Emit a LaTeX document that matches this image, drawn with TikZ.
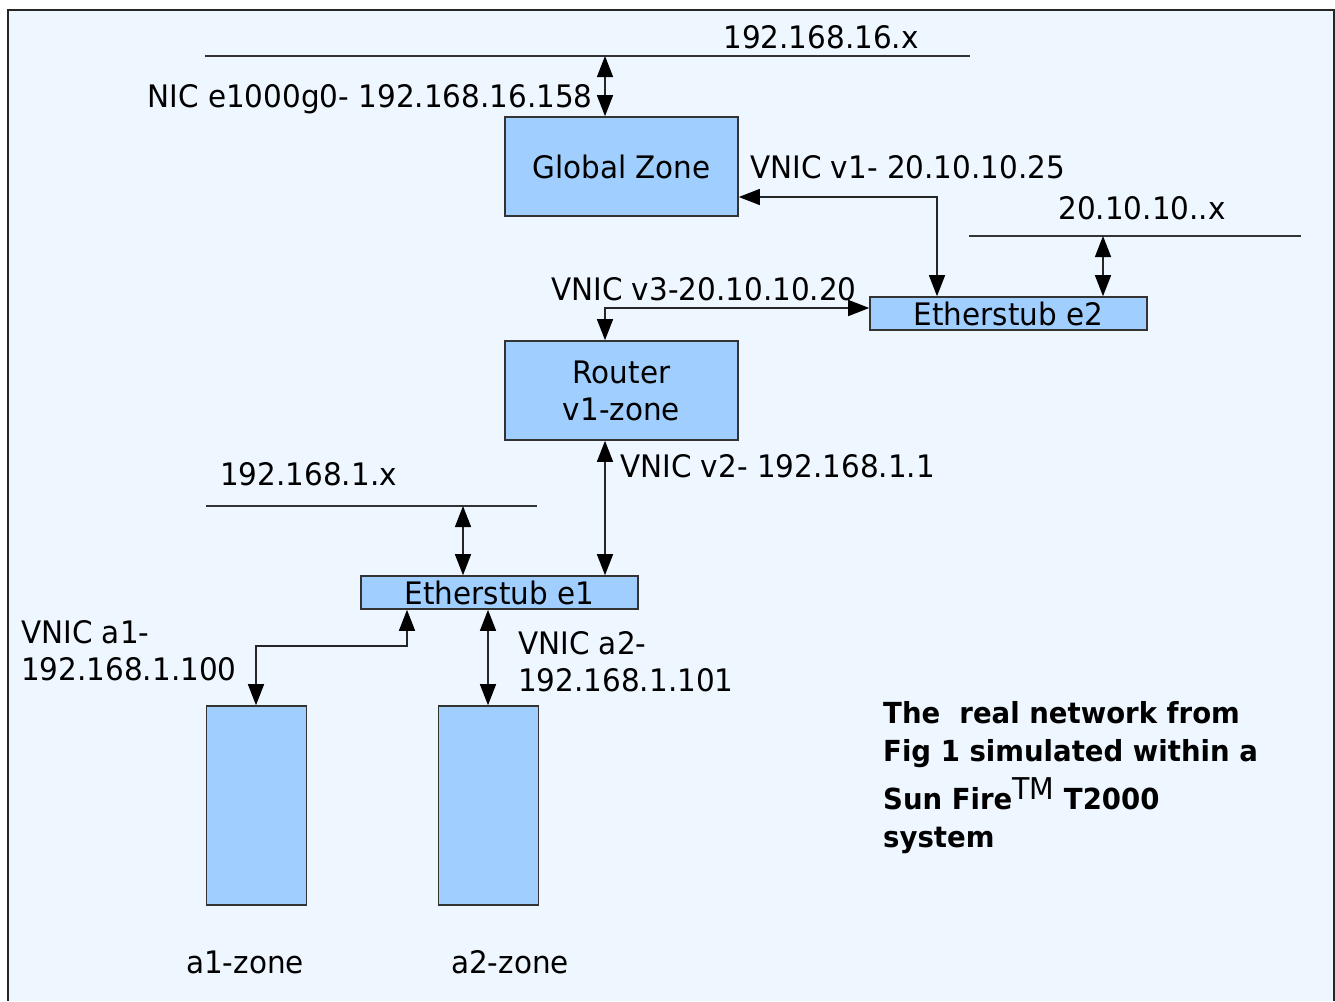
\documentclass[tikz,border=0pt]{standalone}
\usepackage{fontspec}
\setmainfont{DejaVu Sans}[FakeStretch=0.95]
\usetikzlibrary{arrows.meta}
\definecolor{bgblue}{HTML}{EEF6FF}
\definecolor{boxblue}{HTML}{A0CFFF}
\definecolor{edge}{HTML}{333333}

\begin{document}
\begin{tikzpicture}[x=1pt,y=-1pt,
  box/.style={draw=edge, fill=boxblue, line width=1.6pt, inner sep=0pt,
    font=\fontsize{31}{37}\selectfont, align=center},
  lbl/.style={inner sep=0pt, font=\fontsize{31}{37}\selectfont, align=left},
  net/.style={draw=edge, line width=1.4pt},
  dbl/.style={draw=black!85, line width=1.4pt,
    {Triangle[length=21pt,width=16pt,color=black]}-{Triangle[length=21pt,width=16pt,color=black]}}
]
\useasboundingbox (0,0) rectangle (1335,1001);
% page background and frame
\fill[white] (0,0) rectangle (1335,1001);
\fill[bgblue] (8,10) rectangle (1334,1001);
\draw[line width=2pt, black!85] (8,1001) -- (8,10) -- (1334,10) -- (1334,1001);

% zones and etherstubs
\node[box, minimum width=233pt, minimum height=99pt] (gz) at (621.5,166.5) {Global Zone};
\node[box, minimum width=233pt, minimum height=99pt] (rt) at (621.5,390.5) {Router\\v1-zone};
\node[box, minimum width=277pt, minimum height=33pt] (e2) at (1008.5,313.5) {Etherstub e2};
\node[box, minimum width=277pt, minimum height=33pt] (e1) at (499.5,592.5) {Etherstub e1};
\node[box, minimum width=100pt, minimum height=199pt] (a1) at (256.5,805.5) {};
\node[box, minimum width=100pt, minimum height=199pt] (a2) at (488.5,805.5) {};

% external networks
\coordinate (n16l) at (205,56);  \coordinate (n16r) at (970,56);
\coordinate (n20l) at (969,236); \coordinate (n20r) at (1301,236);
\coordinate (n1l) at (206,506);  \coordinate (n1r) at (537,506);
\draw[net] (n16l) -- (n16r);
\draw[net] (n20l) -- (n20r);
\draw[net] (n1l) -- (n1r);

% links
\coordinate (t16) at (605,56);
\coordinate (t20) at (1103,236);
\coordinate (t1) at (463,506);
\coordinate (v1turn) at (937,197);
\coordinate (v3turn) at (605,308);
\coordinate (v2x) at (605,500);
\coordinate (a1x) at (256,646);
\coordinate (a1y) at (407,646);
\coordinate (a2x) at (488,646);

\draw[dbl] (t16) -- (t16 |- gz.north);
\draw[dbl] (v1turn -| gz.east) -- (v1turn) -- (v1turn |- e2.north);
\draw[dbl] (t20) -- (t20 |- e2.north);
\draw[dbl] (v3turn |- rt.north) -- (v3turn) -- (v3turn -| e2.west);
\draw[dbl] (v2x |- rt.south) -- (v2x |- e1.north);
\draw[dbl] (t1) -- (t1 |- e1.north);
\draw[dbl] (a1x |- a1.north) -- (a1x) -- (a1y) -- (a1y |- e1.south);
\draw[dbl] (a2x |- e1.south) -- (a2x |- a2.north);

% labels (multi-line nodes are placed by the baseline of their last line)
\node[lbl, anchor=base] (l16) at (821,48) {192.168.16.x};
\node[lbl, anchor=base east] (lnic) at (593,107) {NIC e1000g0- 192.168.16.158};
\node[lbl, anchor=base west] (lv1) at (750,178) {VNIC v1- 20.10.10.25};
\node[lbl, anchor=base] (l20) at (1142,219) {20.10.10..x};
\node[lbl, anchor=base west] (lv3) at (551,300) {VNIC v3-20.10.10.20};
\node[lbl, anchor=base west] (lv2) at (620,477) {VNIC v2- 192.168.1.1};
\node[lbl, anchor=base west] (l1) at (220,485) {192.168.1.x};
\node[lbl, anchor=base west] (la1) at (21,680) {VNIC a1-\\192.168.1.100};
\node[lbl, anchor=base west] (la2) at (518,691) {VNIC a2-\\192.168.1.101};
\node[lbl, anchor=base] (za1) at (245,973) {a1-zone};
\node[lbl, anchor=base] (za2) at (510,973) {a2-zone};

\node[inner sep=0pt, anchor=base west, align=left,
      font=\fontsize{29}{38}\selectfont\bfseries] (cap) at (883,847)
  {The\ \ real network from\\
   Fig 1 simulated within a\\[8pt]
   Sun Fire\raisebox{10pt}{\fontsize{30}{30}\selectfont\mdseries TM} T2000\\
   system};
\end{tikzpicture}
\end{document}
